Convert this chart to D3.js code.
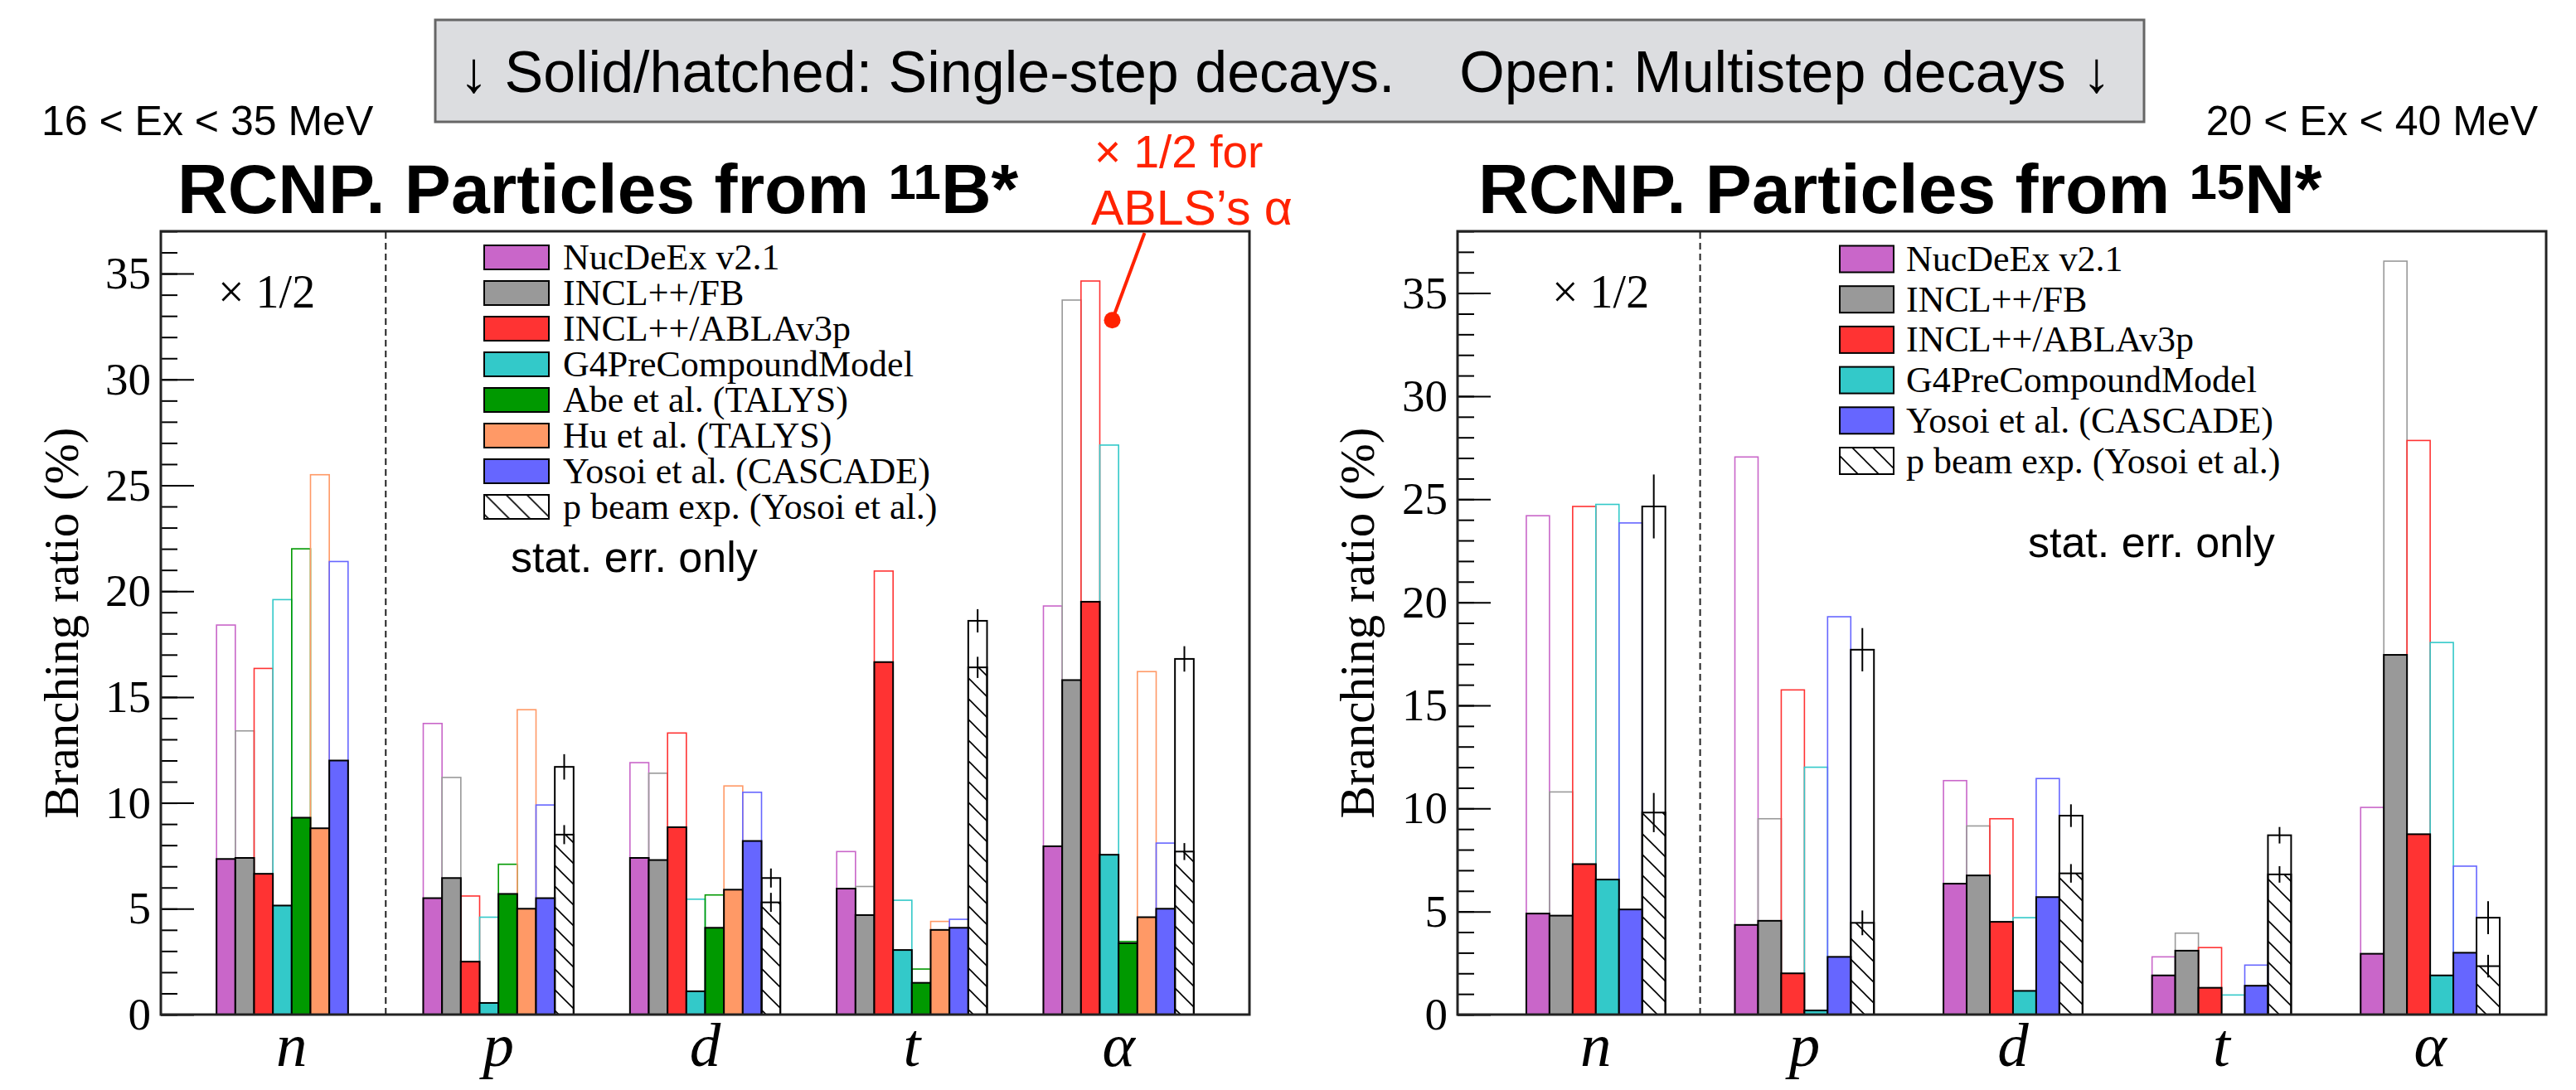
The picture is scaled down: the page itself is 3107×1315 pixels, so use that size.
<!DOCTYPE html>
<html>
<head>
<meta charset="utf-8">
<script src="https://cdn.jsdelivr.net/npm/d3@7"></script>
<style>
  body { margin: 0; background: #fff; }
  svg { display: block; }
</style>
</head>
<body>
<div id="chart"></div>
<script>
// ---- data (branching ratio in %) ----
var particles = ["n", "p", "d", "t", "α"];
var yTicks = [0, 5, 10, 15, 20, 25, 30, 35];

// 11B*, 16 < Ex < 35 MeV. "total" = open bar, "single" = solid/hatched bar
var nucdeexB_total = [18.4, 13.75, 11.9, 7.7, 19.3];
var nucdeexB_single = [7.35, 5.5, 7.4, 5.95, 7.95];
var inclfbB_total = [13.4, 11.2, 11.4, 6.05, 33.75];
var inclfbB_single = [7.4, 6.45, 7.3, 4.7, 15.8];
var ablaB_total = [16.35, 5.6, 13.3, 20.95, 34.65];
var ablaB_single = [6.65, 2.5, 8.85, 16.65, 19.5];
var g4B_total = [19.6, 4.6, 5.45, 5.4, 26.9];
var g4B_single = [5.15, 0.55, 1.1, 3.05, 7.55];
var abeB_total = [22.0, 7.1, 5.65, 2.15, 3.45];
var abeB_single = [9.3, 5.7, 4.1, 1.5, 3.37];
var huB_total = [25.5, 14.4, 10.8, 4.4, 16.2];
var huB_single = [8.8, 5.0, 5.9, 4.0, 4.6];
var yosoiB_total = [21.4, 9.9, 10.5, 4.5, 8.1];
var yosoiB_single = [12.0, 5.5, 8.2, 4.1, 5.0];
var beamB_total = [null, 11.7, 6.45, 18.6, 16.8];
var beamB_totalErr = [null, 0.6, 0.45, 0.55, 0.6];
var beamB_single = [null, 8.5, 5.3, 16.4, 7.7];
var beamB_singleErr = [null, 0.45, 0.45, 0.5, 0.4];

// 15N*, 20 < Ex < 40 MeV
var nucdeexN_total = [24.2, 27.05, 11.35, 2.8, 10.05];
var nucdeexN_single = [4.9, 4.35, 6.35, 1.9, 2.95];
var inclfbN_total = [10.8, 9.5, 9.15, 3.95, 36.55];
var inclfbN_single = [4.8, 4.55, 6.75, 3.1, 17.45];
var ablaN_total = [24.65, 15.75, 9.5, 3.25, 27.85];
var ablaN_single = [7.3, 2.0, 4.5, 1.3, 8.75];
var g4N_total = [24.75, 12.0, 4.7, 0.95, 18.05];
var g4N_single = [6.55, 0.2, 1.15, 0.0, 1.9];
var yosoiN_total = [23.85, 19.3, 11.45, 2.4, 7.2];
var yosoiN_single = [5.1, 2.8, 5.7, 1.4, 3.0];
var beamN_total = [24.65, 17.7, 9.65, 8.7, 4.7];
var beamN_totalErr = [1.55, 1.05, 0.55, 0.4, 0.8];
var beamN_single = [9.8, 4.45, 6.85, 6.8, 2.35];
var beamN_singleErr = [0.95, 0.6, 0.45, 0.4, 0.55];

var beamName = "p beam exp. (Yosoi et al.)";

// ---- styles ----
var colors = {
  "NucDeEx v2.1": "#c966c9",
  "INCL++/FB": "#999999",
  "INCL++/ABLAv3p": "#ff3333",
  "G4PreCompoundModel": "#33c9c9",
  "Abe et al. (TALYS)": "#009900",
  "Hu et al. (TALYS)": "#ff9966",
  "Yosoi et al. (CASCADE)": "#6666ff"
};
var serif = "'Liberation Serif', 'Times New Roman', serif";
var sans = "'Liberation Sans', Arial, Helvetica, sans-serif";
var red = "#ff2200";

var svg = d3.select("#chart").append("svg")
  .attr("width", 3107)
  .attr("height", 1315);

svg.append("rect").attr("width", 3107).attr("height", 1315).attr("fill", "#fff");

// hatch "\\\" for the single-step beam data
var defs = svg.append("defs");
defs.append("pattern")
  .attr("id", "hatch")
  .attr("patternUnits", "userSpaceOnUse")
  .attr("width", 25)
  .attr("height", 25)
  .append("path")
  .attr("d", "M0,0L25,25M-6,19L6,31M19,-6L31,6")
  .attr("stroke", "#000")
  .attr("stroke-width", 1.6);

var panels = [
  {
    left: 194, right: 1507, top: 279, bottom: 1224,
    yMax: 37, domain: [-0.633, 4.633], slots: 8, divider: 0.455,
    models: [
      { name: "NucDeEx v2.1", total: nucdeexB_total, single: nucdeexB_single },
      { name: "INCL++/FB", total: inclfbB_total, single: inclfbB_single },
      { name: "INCL++/ABLAv3p", total: ablaB_total, single: ablaB_single },
      { name: "G4PreCompoundModel", total: g4B_total, single: g4B_single },
      { name: "Abe et al. (TALYS)", total: abeB_total, single: abeB_single },
      { name: "Hu et al. (TALYS)", total: huB_total, single: huB_single },
      { name: "Yosoi et al. (CASCADE)", total: yosoiB_total, single: yosoiB_single }
    ],
    beam: { total: beamB_total, totalErr: beamB_totalErr, single: beamB_single, singleErr: beamB_singleErr },
    legend: { x: 584, w: 78, h: 29, y0: 310.5, dy: 43, tx: 679 },
    half: { x: 263, y: 371 },
    stat: { x: 616, y: 690 },
    yTitleX: 94,
    title: { x: 214, sup: "11", nuc: "B*" },
    range: { text: "16 < Ex < 35 MeV", x: 50, anchor: "start" }
  },
  {
    left: 1758, right: 3071, top: 279, bottom: 1224,
    yMax: 38, domain: [-0.663, 4.556], slots: 6, divider: 0.5,
    models: [
      { name: "NucDeEx v2.1", total: nucdeexN_total, single: nucdeexN_single },
      { name: "INCL++/FB", total: inclfbN_total, single: inclfbN_single },
      { name: "INCL++/ABLAv3p", total: ablaN_total, single: ablaN_single },
      { name: "G4PreCompoundModel", total: g4N_total, single: g4N_single },
      { name: "Yosoi et al. (CASCADE)", total: yosoiN_total, single: yosoiN_single }
    ],
    beam: { total: beamN_total, totalErr: beamN_totalErr, single: beamN_single, singleErr: beamN_singleErr },
    legend: { x: 2219, w: 65, h: 32, y0: 312.5, dy: 48.7, tx: 2299 },
    half: { x: 1872, y: 371 },
    stat: { x: 2446, y: 672 },
    yTitleX: 1657,
    title: { x: 1783, sup: "15", nuc: "N*" },
    range: { text: "20 < Ex < 40 MeV", x: 3061, anchor: "end" }
  }
];

panels.forEach(function (p, pi) {
  var g = svg.append("g");
  var x = d3.scaleLinear().domain(p.domain).range([p.left, p.right]);
  var y = d3.scaleLinear().domain([0, p.yMax]).range([p.bottom, p.top]);
  var bw = 1 / (p.slots + 3);
  var barPx = x(bw) - x(0);
  var slotX = function (i, j) { return x(i - p.slots / 2 * bw + j * bw); };

  // every series incl. the beam data as the last slot
  var series = p.models.map(function (m) {
    return { name: m.name, total: m.total, single: m.single, color: colors[m.name] };
  });
  series.push({ name: beamName, total: p.beam.total, single: p.beam.single,
    totalErr: p.beam.totalErr, singleErr: p.beam.singleErr, color: "#000", hatch: true });

  // flatten to bars
  var bars = [];
  series.forEach(function (s, j) {
    particles.forEach(function (part, i) {
      if (s.total[i] === null) return;
      bars.push({ s: s, i: i, j: j, total: s.total[i], single: s.single[i],
        totalErr: s.totalErr ? s.totalErr[i] : null, singleErr: s.singleErr ? s.singleErr[i] : null });
    });
  });

  // open bars (multistep) first
  g.selectAll(".open").data(bars).enter().append("rect")
    .attr("class", "open")
    .attr("x", function (d) { return slotX(d.i, d.j); })
    .attr("width", barPx)
    .attr("y", function (d) { return y(d.total); })
    .attr("height", function (d) { return y(0) - y(d.total); })
    .attr("fill", "none")
    .attr("stroke", function (d) { return d.s.color; })
    .attr("stroke-width", function (d) { return d.s.hatch ? 2 : 1.6; });

  // solid / hatched bars (single step)
  g.selectAll(".solid").data(bars.filter(function (d) { return d.single > 0; })).enter().append("rect")
    .attr("class", "solid")
    .attr("x", function (d) { return slotX(d.i, d.j); })
    .attr("width", barPx)
    .attr("y", function (d) { return y(d.single); })
    .attr("height", function (d) { return y(0) - y(d.single); })
    .attr("fill", function (d) { return d.s.hatch ? "url(#hatch)" : d.s.color; })
    .attr("stroke", "#000")
    .attr("stroke-width", 2);

  // stat. errors on the beam data
  var errs = [];
  bars.filter(function (d) { return d.s.hatch; }).forEach(function (d) {
    errs.push({ i: d.i, j: d.j, v: d.total, e: d.totalErr });
    errs.push({ i: d.i, j: d.j, v: d.single, e: d.singleErr });
  });
  g.selectAll(".err").data(errs).enter().append("line")
    .attr("class", "err")
    .attr("x1", function (d) { return slotX(d.i, d.j) + barPx / 2; })
    .attr("x2", function (d) { return slotX(d.i, d.j) + barPx / 2; })
    .attr("y1", function (d) { return y(d.v - d.e); })
    .attr("y2", function (d) { return y(d.v + d.e); })
    .attr("stroke", "#000")
    .attr("stroke-width", 2);

  // dashed line after the x 1/2 neutron group
  g.append("line")
    .attr("x1", x(p.divider)).attr("x2", x(p.divider))
    .attr("y1", y(0)).attr("y2", y(p.yMax))
    .attr("stroke", "#222")
    .attr("stroke-width", 2)
    .attr("stroke-dasharray", "8,5");

  // y axis, ticks pointing inside like ROOT
  var yAxis = g.append("g")
    .attr("transform", "translate(" + p.left + ",0)")
    .call(d3.axisLeft(y).tickValues(yTicks).tickSize(-40).tickPadding(12));
  yAxis.selectAll("text").attr("font-family", serif).attr("font-size", 55).attr("fill", "#000");
  yAxis.selectAll("line").attr("stroke", "#000").attr("stroke-width", 2);
  yAxis.select(".domain").remove();

  var minor = g.append("g")
    .attr("transform", "translate(" + p.left + ",0)")
    .call(d3.axisLeft(y).tickValues(d3.range(0, p.yMax + 1)).tickSize(-20).tickFormat(""));
  minor.selectAll("line").attr("stroke", "#000").attr("stroke-width", 2);
  minor.select(".domain").remove();

  // frame
  g.append("rect")
    .attr("x", p.left).attr("y", p.top)
    .attr("width", p.right - p.left).attr("height", p.bottom - p.top)
    .attr("fill", "none").attr("stroke", "#222").attr("stroke-width", 3);

  // particle labels
  g.selectAll(".xlab").data(particles).enter().append("text")
    .attr("class", "xlab")
    .attr("x", function (d, i) { return x(i); })
    .attr("y", 1286)
    .attr("text-anchor", "middle")
    .attr("font-family", serif)
    .attr("font-style", "italic")
    .attr("font-size", 75)
    .text(function (d) { return d; });

  // y title
  g.append("text")
    .attr("transform", "translate(" + p.yTitleX + "," + (p.top + p.bottom) / 2 + ") rotate(-90)")
    .attr("text-anchor", "middle")
    .attr("font-family", serif)
    .attr("font-size", 59)
    .text("Branching ratio (%)");

  // legend
  var leg = g.selectAll(".leg").data(series).enter().append("g")
    .attr("class", "leg")
    .attr("transform", function (d, i) { return "translate(0," + (p.legend.y0 + i * p.legend.dy) + ")"; });
  leg.append("rect")
    .attr("x", p.legend.x).attr("y", -p.legend.h / 2)
    .attr("width", p.legend.w).attr("height", p.legend.h)
    .attr("fill", function (d) { return d.hatch ? "url(#hatch)" : d.color; })
    .attr("stroke", "#000").attr("stroke-width", 2);
  leg.append("text")
    .attr("x", p.legend.tx).attr("y", 0).attr("dy", "0.33em")
    .attr("font-family", serif).attr("font-size", 44)
    .text(function (d) { return d.name; });

  g.append("text")
    .attr("x", p.half.x).attr("y", p.half.y)
    .attr("font-family", serif).attr("font-size", 56)
    .text("× 1/2");

  g.append("text")
    .attr("x", p.stat.x).attr("y", p.stat.y)
    .attr("font-family", sans).attr("font-size", 52)
    .text("stat. err. only");

  // title with superscript mass number
  var t = g.append("text")
    .attr("x", p.title.x).attr("y", 257)
    .attr("font-family", sans).attr("font-weight", "bold").attr("font-size", 84);
  t.append("tspan").text("RCNP. Particles from ");
  t.append("tspan").attr("font-size", 60).attr("dy", -17).text(p.title.sup);
  t.append("tspan").attr("dy", 17).text(p.title.nuc);

  g.append("text")
    .attr("x", p.range.x).attr("y", 163)
    .attr("text-anchor", p.range.anchor)
    .attr("font-family", sans).attr("font-size", 50)
    .text(p.range.text);

  // red note for the ABLA alpha bar in the 11B panel
  if (pi === 0) {
    var ax = slotX(4, 2) + barPx + 15;
    var ay = y(32.8);
    g.append("line")
      .attr("x1", ax).attr("y1", ay)
      .attr("x2", ax + 39).attr("y2", p.top + 2)
      .attr("stroke", red).attr("stroke-width", 4);
    g.append("circle").attr("cx", ax).attr("cy", ay).attr("r", 10).attr("fill", red);
    g.append("text").attr("x", 1320).attr("y", 202)
      .attr("font-family", sans).attr("font-size", 55).attr("fill", red)
      .text("× 1/2 for");
    g.append("text").attr("x", 1316).attr("y", 271)
      .attr("font-family", sans).attr("font-size", 59).attr("fill", red)
      .text("ABLS’s α");
  }
});

// banner on top
svg.append("rect")
  .attr("x", 525).attr("y", 24)
  .attr("width", 2061).attr("height", 123)
  .attr("fill", "#dcdde0").attr("stroke", "#666").attr("stroke-width", 3);
svg.append("text")
  .attr("x", 554).attr("y", 111)
  .attr("font-family", sans).attr("font-size", 70)
  .style("white-space", "pre")
  .text("↓ Solid/hatched: Single-step decays.    Open: Multistep decays ↓");
</script>
</body>
</html>
